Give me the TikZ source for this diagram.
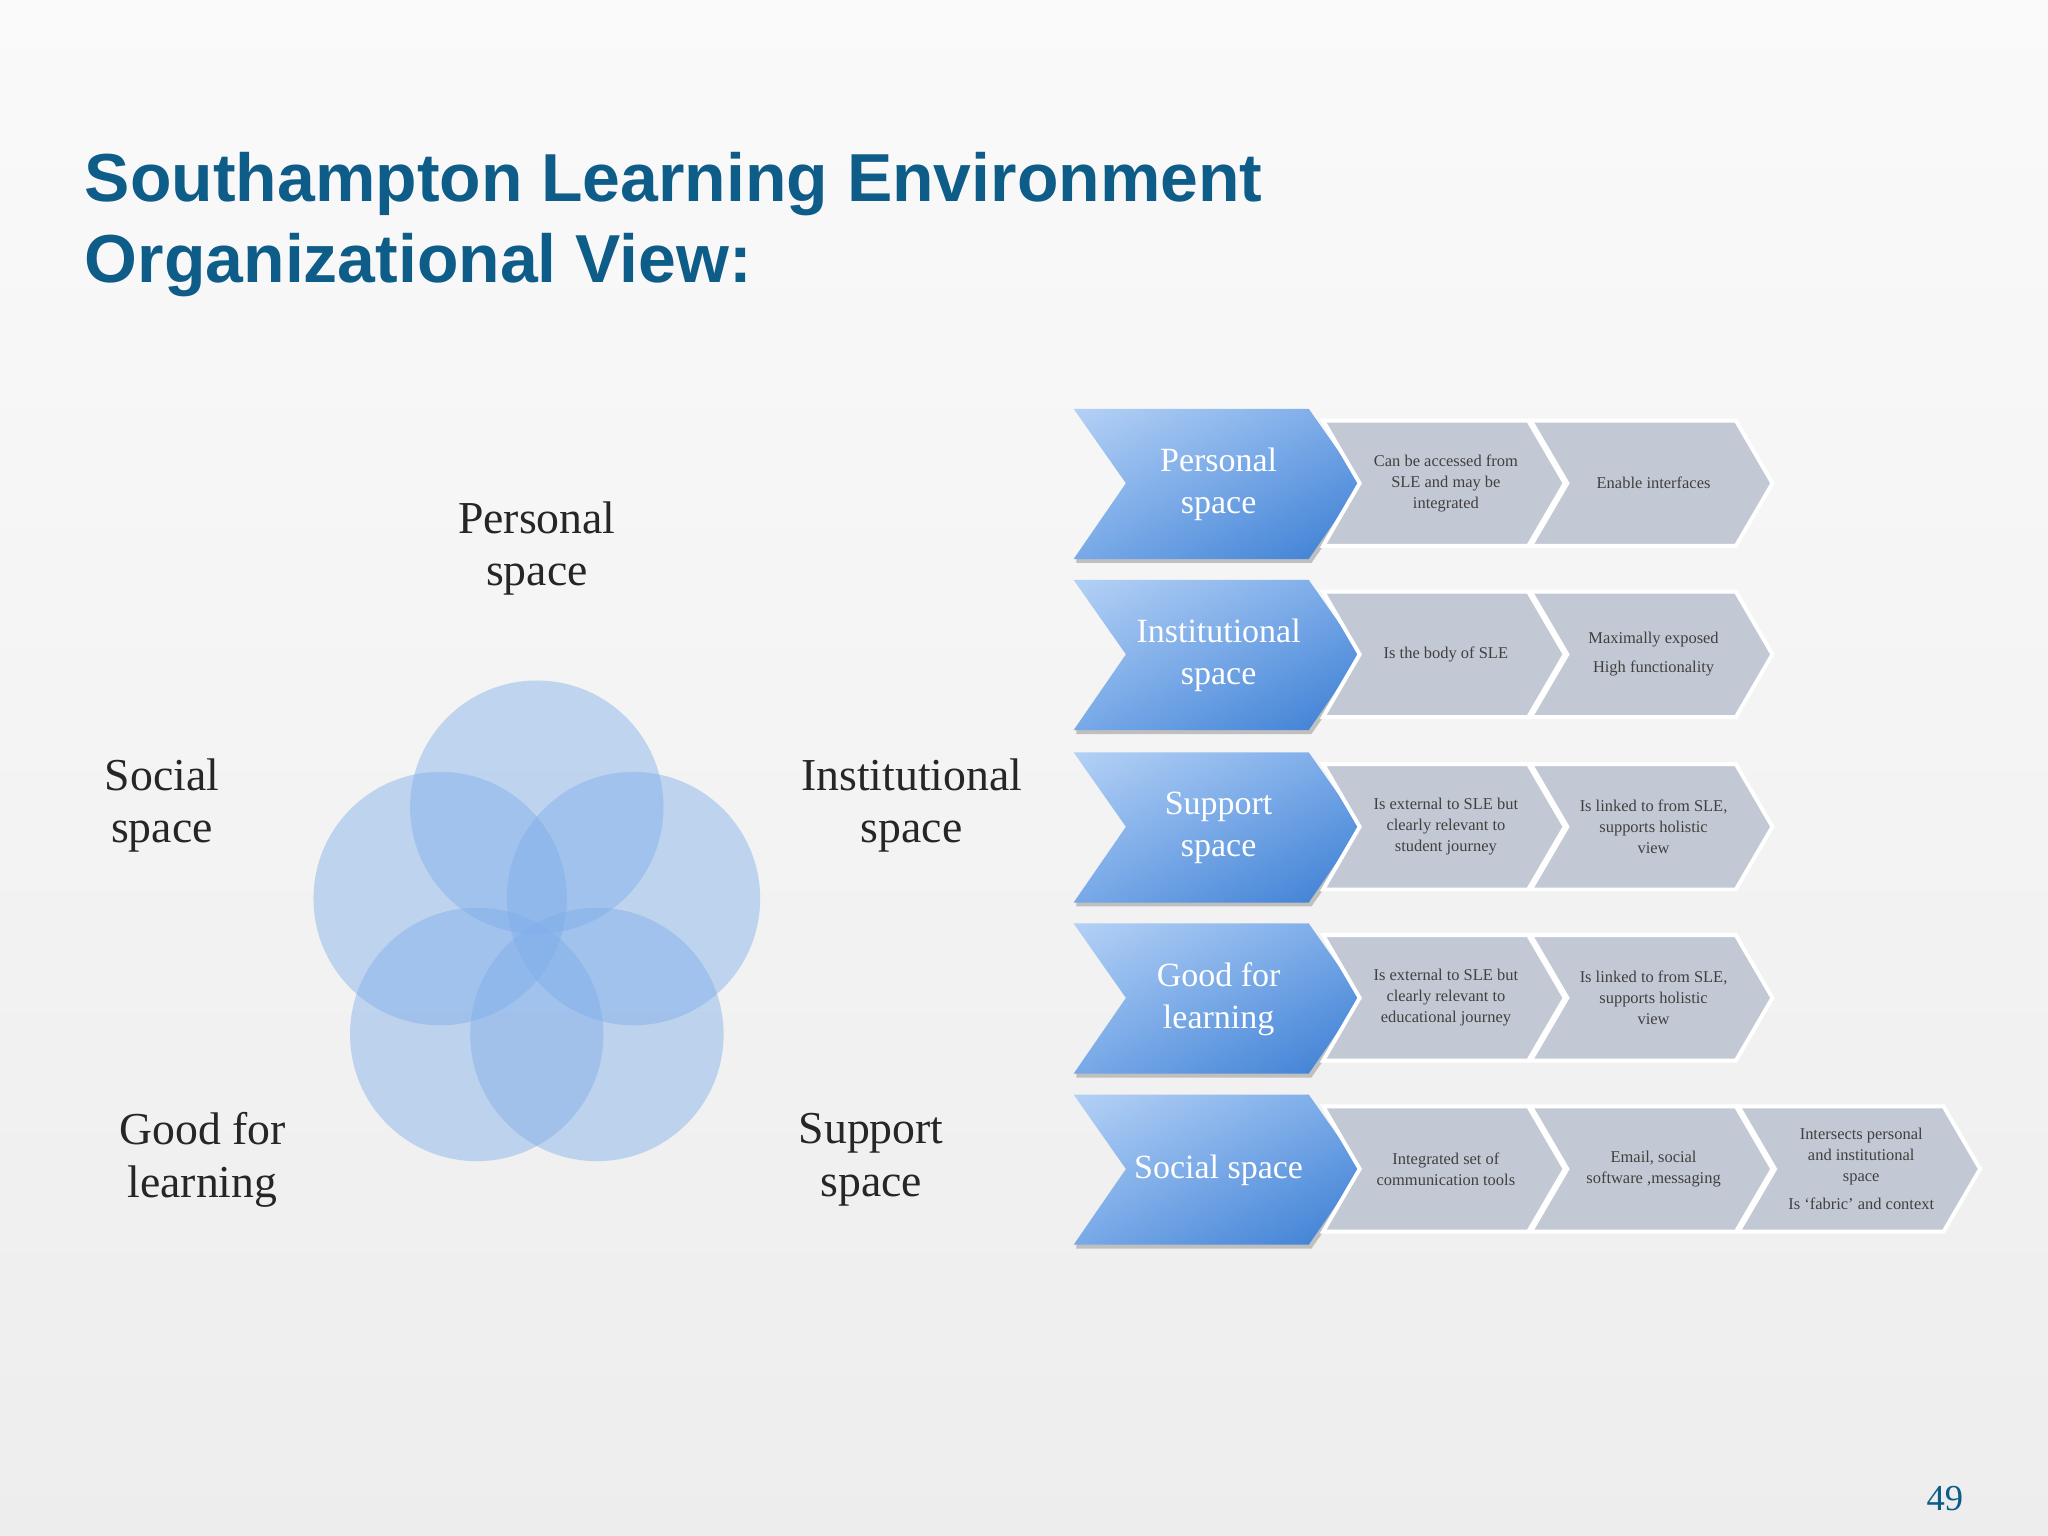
\documentclass[tikz,border=0pt]{standalone}
\usepackage{fontspec}
\usetikzlibrary{shadings}
\setmainfont{Liberation Serif}
\setsansfont{Liberation Sans}
\begin{document}
\begin{tikzpicture}[x=0.5pt,y=-0.5pt]
\definecolor{ttl}{HTML}{0E5C88}
\definecolor{cfill}{HTML}{7FAEEA}
\definecolor{gr}{HTML}{C3C9D4}
\definecolor{bl1}{HTML}{B4D1F5}
\definecolor{blm}{HTML}{78A9E8}
\definecolor{bl2}{HTML}{3A7DD3}
\tikzset{
 lbl/.style={font=\fontsize{17.5}{20}\selectfont, align=center, text=black!85},
 btxt/.style={font=\fontsize{13}{16}\selectfont, align=center, text=white},
 gtxt/.style={font=\fontsize{6.3}{8}\selectfont, align=center, text=black!75},
 circ/.style={fill=cfill, fill opacity=0.45, draw=none}
}
\shade[top color=white!96!gray, bottom color=black!7] (0,0) rectangle (1568,1176);
\useasboundingbox (0,0) rectangle (1568,1176);
\node[anchor=west, font=\sffamily\bfseries\fontsize{26}{31}\selectfont, text=ttl, align=left] (title) at (58,172) {Southampton Learning Environment\\Organizational View:};
% circles
\foreach \n/\cx/\cy in {ct/411/618, cl/337/688, cr/485/688, cbl/365/792, cbr/457/792}
  \fill[circ] (\cx,\cy) circle[radius=97];
\node[lbl] (lp) at (411,420) {Personal\\space};
\node[lbl] (ls) at (124,617) {Social\\space};
\node[lbl] (li) at (698,617) {Institutional\\space};
\node[lbl] (lg) at (155,888) {Good for\\learning};
\node[lbl] (lsu) at (667,888) {Support\\space};
% rows
\newcommand{\bchev}[3]{% name, top, text
  \draw[black!25, line width=2] (824,#2+116) -- (1003,#2+116) -- (1043,#2+59);
  \shade[upper left=bl1, upper right=blm, lower left=blm, lower right=bl2]
   (822,#2) -- (1002,#2) -- (1042,#2+57) -- (1002,#2+115) -- (822,#2+115) -- (862,#2+57) -- cycle;
  \node[btxt] (#1) at (933,#2+58) {#3};}
\newcommand{\gchev}[4]{% name, x0, top, text
  \filldraw[fill=gr, draw=white, line width=1.5] (#2,#3+9) -- (#2+157,#3+9) -- (#2+185,#3+57) -- (#2+157,#3+105) -- (#2,#3+105) -- (#2+28,#3+57) -- cycle;
  \node[gtxt] (#1) at (#2+94,#3+57) {#4};}
\bchev{b1}{313}{Personal\\space}
\gchev{g11}{1013}{313}{Can be accessed from\\SLE and may be\\integrated}
\gchev{g12}{1172}{313}{Enable interfaces}
\bchev{b2}{444}{Institutional\\space}
\gchev{g21}{1013}{444}{Is the body of SLE}
\gchev{g22}{1172}{444}{Maximally exposed\\[3pt]High functionality}
\bchev{b3}{576}{Support\\space}
\gchev{g31}{1013}{576}{Is external to SLE but\\clearly relevant to\\student journey}
\gchev{g32}{1172}{576}{Is linked to from SLE,\\supports holistic\\view}
\bchev{b4}{707}{Good for\\learning}
\gchev{g41}{1013}{707}{Is external to SLE but\\clearly relevant to\\educational journey}
\gchev{g42}{1172}{707}{Is linked to from SLE,\\supports holistic\\view}
\bchev{b5}{838}{Social space}
\gchev{g51}{1013}{838}{Integrated set of\\communication tools}
\gchev{g52}{1172}{838}{Email, social\\software ,messaging}
\gchev{g53}{1331}{838}{Intersects personal\\and institutional\\space\\[3pt]Is `fabric' and context}
\node[font=\fontsize{14}{16}\selectfont, text=ttl] (pg) at (1489,1147) {49};
\end{tikzpicture}
\end{document}
